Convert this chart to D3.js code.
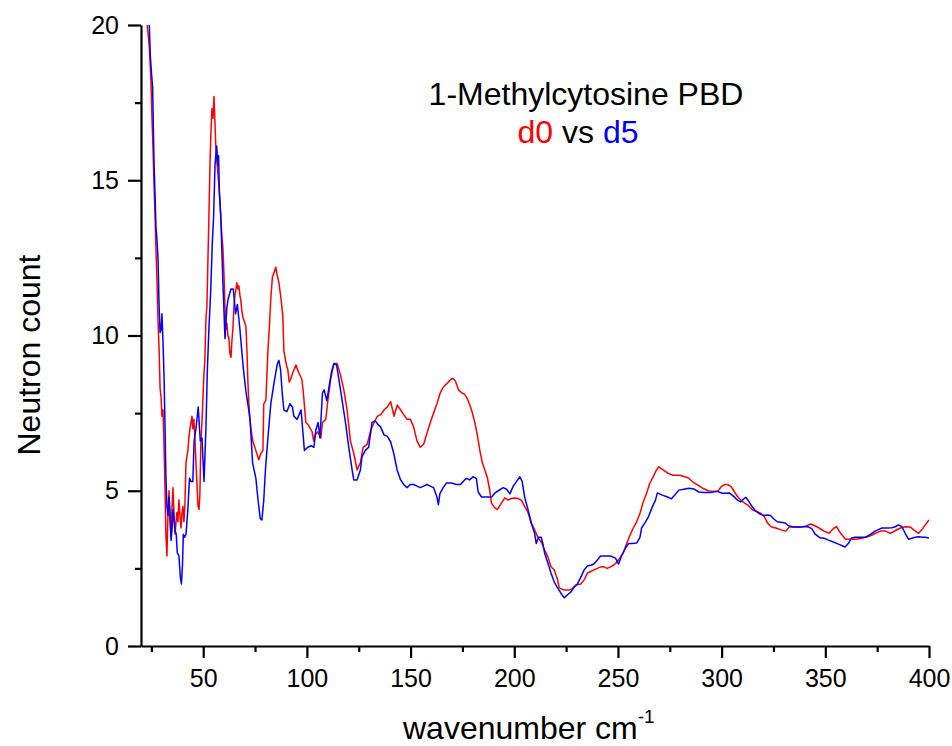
<!DOCTYPE html>
<html>
<head>
<meta charset="utf-8">
<script src="https://cdn.jsdelivr.net/npm/d3@7"></script>
<style>
  html, body { margin: 0; padding: 0; background: #fff; }
  svg { display: block; font-family: "Liberation Sans", Arial, sans-serif; }
</style>
</head>
<body>
<svg id="chart" width="952" height="746"></svg>
<script>
// ---- Data ----
const titleLine1 = "1-Methylcytosine PBD";
const seriesNames = ["d0", "d5"];
const xTickValues = [50, 100, 150, 200, 250, 300, 350, 400];
const yTickValues = [0, 5, 10, 15, 20];

const d0Wave = [23.0,24.0,24.8,25.3,25.8,26.3,26.8,27.2,27.7,28.2,28.7,29.2,29.7,30.1,30.6,31.1,31.6,32.0,32.5,33.0,33.5,34.0,34.5,35.0,35.4,35.9,36.4,36.9,37.3,37.8,38.3,38.8,39.3,39.8,40.2,40.7,41.2,41.7,42.6,43.1,43.6,44.1,44.6,45.0,45.5,46.0,46.5,47.0,47.5,48.0,48.4,48.9,49.4,49.9,50.3,50.8,51.3,51.8,52.3,52.8,53.3,53.7,54.2,54.7,55.2,55.7,56.1,56.6,57.1,57.6,58.0,58.5,59.0,59.5,60.0,60.4,60.9,61.4,61.9,62.4,62.9,63.4,63.8,64.3,64.8,65.3,65.8,66.2,66.7,67.2,67.7,68.2,68.6,69.1,69.6,70.6,71.1,71.5,72.0,72.5,73.0,73.9,74.4,75.4,76.3,76.8,77.8,78.8,79.2,80.2,81.2,82.0,82.6,83.4,84.0,85.0,85.5,86.5,87.5,88.4,88.9,90.3,90.8,91.5,92.2,93.2,94.7,96.1,97.5,98.0,98.5,99.5,100.9,102.5,103.3,104.0,105.3,106.7,107.5,109.1,110.1,111.5,113.0,114.6,116.3,117.8,119.4,121.0,122.6,124.2,125.8,127.1,129.1,130.8,132.4,134.0,135.6,137.2,138.8,140.4,142.0,143.6,145.2,146.7,148.3,149.9,151.5,153.1,154.7,156.3,157.9,159.5,161.1,162.7,164.3,165.9,167.5,169.1,170.2,171.5,173.1,174.7,176.2,177.8,179.4,181.0,182.3,183.4,184.6,185.8,187.1,188.2,189.0,190.6,191.9,193.8,195.4,197.0,198.6,200.2,201.8,203.4,205.0,206.6,208.2,209.8,211.4,213.0,214.6,216.2,217.7,219.3,220.9,221.7,224.1,226.5,228.1,229.7,232.1,233.7,235.3,236.9,238.5,240.1,241.6,243.2,244.8,246.4,247.9,249.5,251.1,252.6,254.2,255.8,257.4,259.0,260.6,262.2,263.8,265.4,267.0,268.6,269.7,271.8,274.2,276.6,279.8,282.2,283.8,286.2,288.6,291.0,293.4,295.8,298.2,299.8,301.4,303.0,304.6,306.2,307.8,310.2,312.6,315.0,317.4,319.0,320.6,322.2,323.8,326.2,328.6,331.0,332.6,335.0,338.2,340.6,343.0,344.6,347.0,349.4,351.8,354.2,355.5,357.4,359.8,362.2,364.6,367.0,369.4,371.8,374.2,376.6,379.0,381.4,383.8,386.2,388.6,391.0,393.4,395.0,396.6,398.2,400.0];
const d0Count = [20.0,19.3,18.2,17.0,16.0,14.8,13.8,12.8,11.8,10.5,9.6,8.3,8.0,7.4,7.6,6.5,5.0,3.6,2.9,4.2,5.0,4.0,3.5,4.5,5.1,4.3,3.6,4.0,4.3,4.0,4.7,4.2,3.8,4.3,4.5,4.0,4.6,5.9,6.3,6.7,7.0,7.2,7.4,7.0,7.3,6.7,5.9,5.2,4.5,4.4,4.9,6.6,7.2,8.0,8.7,9.2,10.5,11.0,12.5,14.0,15.6,16.5,17.3,17.0,17.7,16.8,16.0,15.6,15.2,14.8,14.4,13.8,13.2,12.8,12.0,11.1,10.2,10.4,10.0,9.9,9.4,9.3,9.8,10.2,10.9,11.3,11.5,11.7,11.5,11.6,11.3,11.1,10.8,10.6,10.5,10.3,9.5,8.6,7.8,7.3,7.0,6.6,6.5,6.3,6.1,6.0,6.2,6.3,7.8,7.9,9.5,10.4,11.2,11.9,12.0,12.2,12.0,11.7,11.2,10.6,9.5,9.0,8.9,8.5,8.6,8.8,9.05,8.8,8.6,8.35,8.0,7.2,7.1,6.9,6.6,6.8,6.9,6.7,7.2,7.3,7.9,8.6,9.1,9.1,8.7,8.25,7.6,6.6,6.2,5.67,5.9,6.4,6.5,6.95,7.2,7.4,7.45,7.6,7.7,7.87,7.4,7.76,7.6,7.45,7.3,7.3,7.05,6.6,6.4,6.5,6.85,7.2,7.5,7.8,8.15,8.35,8.45,8.57,8.62,8.55,8.25,8.15,8.1,7.9,7.6,7.2,6.75,6.3,5.9,5.67,5.4,5.0,4.6,4.45,4.4,4.6,4.77,4.7,4.75,4.77,4.75,4.7,4.5,4.3,3.96,3.74,3.5,3.35,3.1,2.87,2.55,2.45,2.13,1.87,1.8,1.8,1.85,1.96,2.0,2.13,2.35,2.4,2.45,2.5,2.55,2.55,2.5,2.55,2.6,2.7,2.85,3.0,3.3,3.57,3.8,4.0,4.27,4.64,4.92,5.25,5.45,5.67,5.77,5.67,5.56,5.5,5.5,5.45,5.42,5.28,5.18,5.08,5.0,4.98,4.98,5.13,5.2,5.2,5.13,4.96,4.8,4.64,4.54,4.38,4.32,4.27,4.16,3.96,3.84,3.8,3.74,3.7,3.83,3.83,3.83,3.86,3.93,3.88,3.8,3.7,3.63,3.8,3.84,3.63,3.44,3.44,3.44,3.46,3.5,3.55,3.63,3.7,3.7,3.63,3.72,3.8,3.84,3.83,3.7,3.63,3.75,3.9,4.06];

const d5Wave = [24.0,24.5,25.0,25.6,26.3,26.8,27.2,27.7,28.2,28.7,29.2,29.7,30.1,30.6,31.1,31.6,32.0,32.5,33.0,33.5,34.0,34.5,35.0,35.4,36.0,36.5,37.0,37.5,38.3,39.0,39.5,40.0,40.4,41.0,41.7,42.5,43.4,44.1,45.0,45.6,46.5,47.6,48.6,49.4,50.4,51.3,52.0,52.8,53.6,54.4,55.0,55.7,56.5,57.0,57.4,57.8,58.5,59.4,60.5,61.4,62.1,63.4,64.5,65.6,66.5,67.7,68.6,69.4,70.6,72.2,72.7,73.8,75.4,76.3,77.5,78.3,79.2,80.0,81.2,82.6,84.2,85.8,86.5,87.3,88.1,88.9,90.4,91.8,93.0,93.7,95.3,97.2,98.0,98.8,100.4,102.0,103.4,104.3,105.4,106.3,107.5,108.3,109.6,110.7,111.8,113.0,114.3,115.4,117.0,118.6,120.2,121.8,122.6,124.2,125.8,126.6,128.2,129.8,131.4,133.0,134.1,135.6,137.2,138.8,140.4,141.9,143.5,145.2,146.7,148.3,149.9,151.5,153.1,154.7,156.3,157.9,159.5,161.1,162.7,163.4,164.1,165.7,167.3,169.7,172.1,174.1,175.3,176.9,178.5,180.1,181.7,182.6,184.2,186.7,189.1,190.7,192.3,194.7,196.3,197.9,199.5,201.1,202.7,203.8,205.0,206.6,208.2,209.8,210.6,211.7,213.0,213.8,214.6,216.2,217.7,219.3,220.9,222.5,224.1,225.7,227.3,228.9,230.5,232.1,233.7,235.3,236.9,238.5,240.1,241.6,244.0,246.4,248.8,250.3,251.9,253.6,255.1,256.7,259.1,260.6,261.4,263.3,264.7,266.3,268.1,269.0,271.4,273.9,275.8,277.4,279.4,281.8,284.2,286.6,289.0,291.4,294.6,297.9,300.3,302.0,303.6,305.1,307.6,309.2,310.0,311.6,312.7,314.8,316.4,318.5,320.4,322.0,323.6,325.2,326.8,329.2,330.7,332.3,334.7,338.0,340.4,342.0,343.5,345.1,347.5,349.1,351.5,353.9,356.3,358.4,359.5,361.1,362.7,364.4,366.8,369.2,370.8,372.4,374.0,375.6,377.3,379.7,382.1,383.7,385.3,386.9,388.5,390.1,391.7,393.3,394.9,396.6,398.2,400.0];
const d5Count = [20.0,19.0,18.5,18.0,15.5,14.5,13.5,13.1,12.5,11.0,10.1,10.2,10.7,9.8,8.7,7.0,5.5,4.5,4.2,4.8,4.3,3.4,3.8,4.4,4.0,3.7,3.6,3.0,2.9,2.2,2.0,2.6,3.6,3.5,3.6,4.3,5.4,5.3,5.3,6.6,7.0,7.7,6.6,6.7,5.3,7.0,8.9,10.3,11.4,13.0,13.8,15.5,16.1,15.5,15.8,14.6,13.8,11.9,9.9,10.9,11.2,11.5,11.5,10.7,11.0,10.2,9.5,8.9,8.2,7.5,7.2,5.9,5.4,4.8,4.1,4.06,4.7,5.67,6.7,7.8,8.5,9.1,9.2,8.9,8.15,7.6,7.55,7.8,7.7,7.4,7.3,7.6,6.95,6.3,6.4,6.45,6.4,6.95,7.2,6.7,8.15,8.25,7.9,8.35,8.8,9.1,9.05,8.6,7.9,7.2,6.4,5.67,5.35,5.35,5.67,6.1,6.3,6.4,7.2,7.25,7.15,7.05,6.8,6.75,6.57,6.2,5.67,5.35,5.2,5.1,5.2,5.2,5.15,5.1,5.15,5.2,5.15,5.1,4.8,4.55,4.9,5.1,5.25,5.25,5.2,5.2,5.3,5.4,5.35,5.45,5.4,4.96,4.8,4.8,4.8,4.93,5.0,5.1,5.05,4.9,5.15,5.3,5.45,5.3,4.8,4.4,3.96,3.63,3.3,3.5,3.5,3.3,3.0,2.67,2.35,2.06,1.87,1.7,1.55,1.65,1.74,1.9,2.0,2.22,2.45,2.58,2.6,2.65,2.77,2.9,2.9,2.9,2.83,2.64,2.93,3.15,3.3,3.3,3.32,3.5,3.8,4.0,4.16,4.44,4.7,4.93,4.86,4.8,4.74,4.86,5.02,5.05,5.08,5.06,4.96,4.94,4.94,4.98,4.92,4.92,4.93,4.86,4.7,4.64,4.7,4.79,4.7,4.48,4.35,4.25,4.2,4.22,4.2,4.09,4.0,3.98,3.96,3.87,3.83,3.83,3.85,3.83,3.78,3.6,3.48,3.48,3.41,3.35,3.28,3.22,3.19,3.3,3.48,3.5,3.5,3.5,3.55,3.63,3.7,3.75,3.8,3.8,3.81,3.84,3.9,3.85,3.63,3.44,3.47,3.5,3.52,3.5,3.5,3.48];

const seriesColors = ["#ff0000", "#0000ff"];

// ---- Drawing ----
const svg = d3.select("#chart");
const x = d3.scaleLinear().domain([20, 400]).range([141, 929]);
const y = d3.scaleLinear().domain([0, 20]).range([646, 25]);

const minorX = d3.range(25, 400, 50);
const minorY = d3.range(2.5, 20, 5);

function styleAxis(g) {
  g.selectAll("path.domain").attr("stroke", "#000").attr("stroke-width", 2.2);
  g.selectAll(".tick line").attr("stroke", "#000").attr("stroke-width", 2.2);
  g.selectAll(".tick text")
    .attr("fill", "#000")
    .style("font-family", "'Liberation Sans', Arial, sans-serif")
    .style("font-size", "25px");
}

// minor ticks
svg.append("g")
  .attr("transform", `translate(0,${y(0)})`)
  .call(d3.axisBottom(x).tickValues(minorX).tickSize(6).tickFormat(""))
  .call(styleAxis)
  .call(g => g.select("path.domain").remove());
svg.append("g")
  .attr("transform", `translate(${x(20)},0)`)
  .call(d3.axisLeft(y).tickValues(minorY).tickSize(6).tickFormat(""))
  .call(styleAxis)
  .call(g => g.select("path.domain").remove());

// major axes
const xAxisG = svg.append("g")
  .attr("transform", `translate(0,${y(0)})`)
  .call(d3.axisBottom(x).tickValues(xTickValues).tickSize(12).tickSizeOuter(0).tickPadding(11).tickFormat(d3.format("d")))
  .call(styleAxis);
xAxisG.selectAll(".tick text").attr("dy", "0.71em");

const yAxisG = svg.append("g")
  .attr("transform", `translate(${x(20)},0)`)
  .call(d3.axisLeft(y).tickValues(yTickValues).tickSize(13).tickSizeOuter(0).tickPadding(9).tickFormat(d3.format("d")))
  .call(styleAxis);

// lines
const series = [
  { wave: d0Wave, count: d0Count },
  { wave: d5Wave, count: d5Count }
];
const line = d3.line().x(d => x(d[0])).y(d => y(d[1]));
series.forEach((s, i) => {
  const pts = s.wave.map((w, k) => [w, s.count[k]]);
  svg.append("path")
    .datum(pts)
    .attr("fill", "none")
    .attr("stroke", seriesColors[i])
    .attr("stroke-width", 1.5)
    .attr("stroke-linejoin", "round")
    .attr("d", line);
});

// title
svg.append("text")
  .attr("x", 586).attr("y", 105)
  .attr("text-anchor", "middle")
  .style("font-size", "32px")
  .attr("fill", "#000")
  .text(titleLine1);

const t2 = svg.append("text")
  .attr("x", 578).attr("y", 143)
  .attr("text-anchor", "middle")
  .style("font-size", "32px");
t2.append("tspan").attr("fill", seriesColors[0]).text(seriesNames[0]);
t2.append("tspan").attr("fill", "#000").text(" vs ");
t2.append("tspan").attr("fill", seriesColors[1]).text(seriesNames[1]);

// axis titles
const xt = svg.append("text")
  .attr("x", 403).attr("y", 739)
  .style("font-size", "32px")
  .attr("fill", "#000");
xt.append("tspan").text("wavenumber cm");
xt.append("tspan").attr("dy", -16).style("font-size", "19px").text("-1");

svg.append("text")
  .attr("transform", `translate(40,355) rotate(-90)`)
  .attr("text-anchor", "middle")
  .style("font-size", "32px")
  .attr("fill", "#000")
  .text("Neutron count");
</script>
</body>
</html>
